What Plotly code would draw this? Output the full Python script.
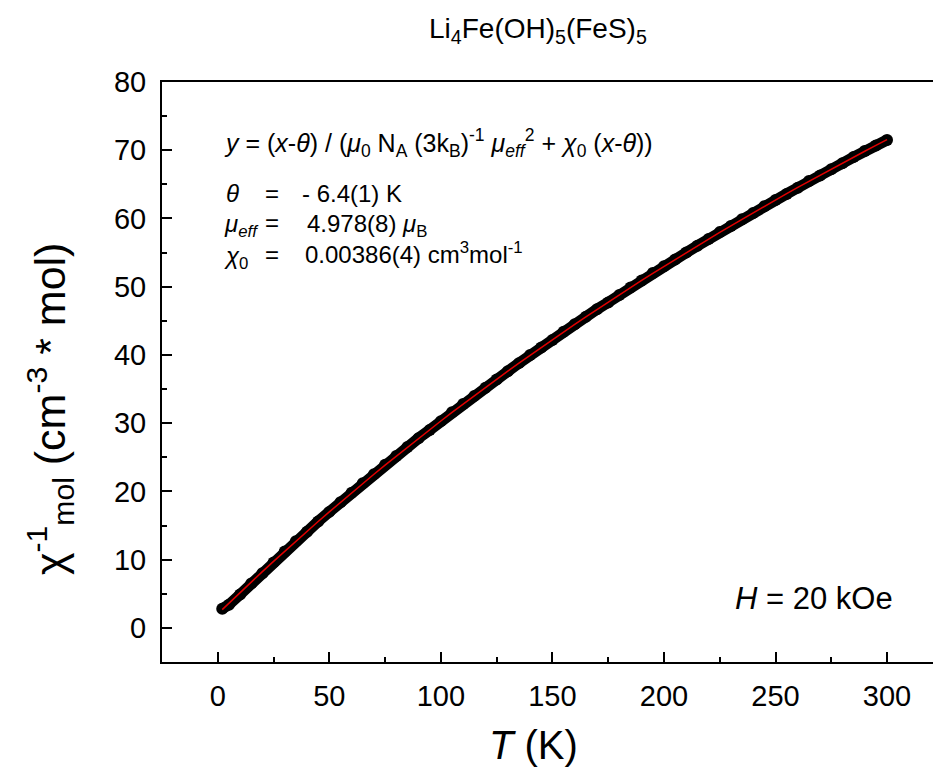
import plotly.graph_objects as go

# Temperature (K)
T = [2, 5, 10, 15, 20, 25, 30, 35, 40, 45, 50, 55, 60, 65, 70, 75, 80, 85, 90, 95,
     100, 105, 110, 115, 120, 125, 130, 135, 140, 145, 150, 155, 160, 165, 170, 175,
     180, 185, 190, 195, 200, 205, 210, 215, 220, 225, 230, 235, 240, 245, 250, 255,
     260, 265, 270, 275, 280, 285, 290, 295, 300]

chi_inv_data = [2.8, 3.4, 4.9, 6.5, 8.0, 9.6, 11.2, 12.7, 14.1, 15.6, 17.0, 18.4, 19.8,
                21.2, 22.5, 23.9, 25.2, 26.5, 27.8, 29.0, 30.3, 31.6, 32.8, 34.0, 35.2,
                36.4, 37.6, 38.8, 40.0, 41.1, 42.2, 43.4, 44.5, 45.6, 46.7, 47.7, 48.8,
                49.9, 50.9, 52.0, 53.0, 54.0, 55.0, 56.0, 57.0, 58.0, 58.9, 59.9, 60.8,
                61.8, 62.7, 63.6, 64.5, 65.5, 66.3, 67.2, 68.1, 69.0, 69.9, 70.7, 71.5]

# fit curve
chi_inv_fit = [2.68, 3.63, 5.19, 6.73, 8.25, 9.75, 11.24, 12.70, 14.15, 15.59, 17.00,
               18.41, 19.79, 21.16, 22.51, 23.85, 25.17, 26.48, 27.77, 29.05, 30.32,
               31.57, 32.80, 34.03, 35.24, 36.44, 37.62, 38.80, 39.96, 41.10, 42.24,
               43.36, 44.48, 45.58, 46.67, 47.75, 48.81, 49.87, 50.92, 51.96, 52.98,
               54.00, 55.00, 56.00, 56.99, 57.96, 58.93, 59.89, 60.84, 61.78, 62.71,
               63.63, 64.55, 65.45, 66.35, 67.24, 68.12, 68.99, 69.85, 70.71, 71.56]

x_ticks = [0, 50, 100, 150, 200, 250, 300]
y_ticks = [0, 10, 20, 30, 40, 50, 60, 70, 80]

W, H = 933, 773
L, R, TOP, B = 162, 0, 82, 111
PW, PH = W - L - R, H - TOP - B


def px(x):
    return (x - L) / PW


def py(y):
    return (H - B - y) / PH


FONT = "Liberation Sans, Arial, sans-serif"

fig = go.Figure()
fig.add_trace(go.Scatter(x=T, y=chi_inv_data, mode="lines+markers",
                         line=dict(color="black", width=11),
                         marker=dict(color="black", size=12),
                         showlegend=False))
fig.add_trace(go.Scatter(x=T, y=chi_inv_fit, mode="lines",
                         line=dict(color="#e00000", width=1.5),
                         showlegend=False))

axis_common = dict(showgrid=False, zeroline=False, showline=True, linecolor="black",
                   linewidth=2, ticks="inside", ticklen=10, tickwidth=1.5,
                   tickcolor="black", tickfont=dict(family=FONT, size=29, color="black"))

fig.update_xaxes(range=[-25, 320.6], tickvals=x_ticks, mirror=True,
                 minor=dict(ticks="inside", ticklen=5, tickwidth=1.5, dtick=25,
                            tick0=25, tickcolor="black"),
                 ticklabelstandoff=7, **axis_common)
fig.update_yaxes(range=[-5, 80], tickvals=y_ticks, mirror=False,
                 minor=dict(ticks="inside", ticklen=5, tickwidth=1.5, dtick=5,
                            tick0=5, tickcolor="black"),
                 ticklabelstandoff=8, **axis_common)

FS = 24
ann = []
ann.append(dict(text="Li<sub>4</sub>Fe(OH)<sub>5</sub>(FeS)<sub>5</sub>",
                x=px(538), y=py(30), font=dict(size=28)))
ann.append(dict(text="<i>T</i> (K)", x=px(533), y=py(745), font=dict(size=40)))
ann.append(dict(text="χ<sup>-1</sup><sub>mol</sub> (cm<sup>-3</sup> * mol)",
                x=px(50), y=py(409), textangle=-90, font=dict(size=43)))
ann.append(dict(text="<i>y</i> = (<i>x</i>-<i>θ</i>) / (<i>μ</i><sub>0</sub> N<sub>A</sub> (3k<sub>B</sub>)<sup>-1</sup> <i>μ</i><sub><i>eff</i></sub><sup>2</sup> + <i>χ</i><sub>0</sub> (<i>x</i>-<i>θ</i>))",
                x=px(222), y=py(143), xanchor="left", font=dict(size=25)))
ann.append(dict(text="<i>θ</i>", x=px(224), y=py(193), xanchor="left", font=dict(size=FS)))
ann.append(dict(text="<i>μ</i><sub><i>eff</i></sub>", x=px(222), y=py(225), xanchor="left", font=dict(size=FS)))
ann.append(dict(text="<i>χ</i><sub>0</sub>", x=px(222), y=py(257), xanchor="left", font=dict(size=FS)))
for yy in (193, 222, 254):
    ann.append(dict(text="=", x=px(263), y=py(yy), xanchor="left", font=dict(size=FS)))
ann.append(dict(text="- 6.4(1) K", x=px(300), y=py(193), xanchor="left", font=dict(size=FS)))
ann.append(dict(text="4.978(8) <i>μ</i><sub>B</sub>", x=px(305), y=py(225), xanchor="left", font=dict(size=FS)))
ann.append(dict(text="0.00386(4) cm<sup>3</sup>mol<sup>-1</sup>", x=px(303), y=py(253), xanchor="left", font=dict(size=FS)))
ann.append(dict(text="<i>H</i> = 20 kOe", x=px(895), y=py(598), xanchor="right", font=dict(size=31)))

for a in ann:
    a.setdefault("xanchor", "center")
    a.update(xref="paper", yref="paper", yanchor="middle", showarrow=False)
    a["font"] = dict(family=FONT, color="black", **a["font"])

fig.update_layout(width=W, height=H, margin=dict(l=L, r=R, t=TOP, b=B),
                  plot_bgcolor="white", paper_bgcolor="white", annotations=ann,
                  font=dict(family=FONT, color="black"))

fig.write_html("out.html")
